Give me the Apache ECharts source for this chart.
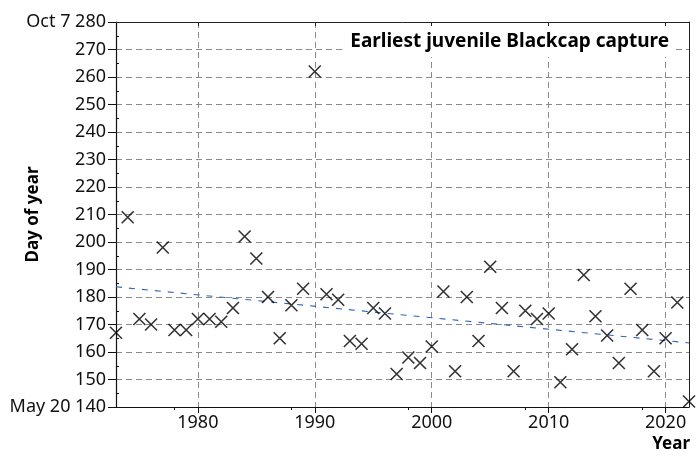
<!DOCTYPE html>
<html><head><meta charset="utf-8">
<script src="https://cdn.jsdelivr.net/npm/echarts@6/dist/echarts.min.js"></script>
<style>html,body{margin:0;padding:0;background:#fff}#c{width:696px;height:457px}</style>
</head><body><div id="c"></div>
<script>
const years = [1973,1974,1975,1976,1977,1978,1979,1980,1981,1982,1983,1984,1985,1986,1987,1988,1989,1990,1991,1992,1993,1994,1995,1996,1997,1998,1999,2000,2001,2002,2003,2004,2005,2006,2007,2008,2009,2010,2011,2012,2013,2014,2015,2016,2017,2018,2019,2020,2021,2022];
const dayOfYear = [167,209,172,170,198,168,168,172,172,171,176,202,194,180,165,177,183,262,181,179,164,163,176,174,152,158,156,162,182,153,180,164,191,176,153,175,172,174,149,161,188,173,166,156,183,168,153,165,178,142];
const trendYears = [1973, 2022];
const trendValues = [183.7, 163.3];
const xTickYears = [1980, 1990, 2000, 2010, 2020];
const yDateLabels = {280: 'Oct 7', 140: 'May 20'};
const titleText = 'Earliest juvenile Blackcap capture';

const FONT = 'Noto Sans';
const chart = echarts.init(document.getElementById('c'), null, {renderer: 'canvas'});
const grid = {left: 116, right: 7, top: 22, bottom: 50};
const points = years.map((y, i) => [y, dayOfYear[i]]);
const trend = trendYears.map((y, i) => [y, trendValues[i]]);
const dashGrid = {show: true, lineStyle: {color: '#8a8a8a', type: [6, 4], width: 1}};
chart.setOption({
  animation: false,
  title: {
    text: titleText, right: 21, top: 26,
    backgroundColor: '#fff', padding: [6, 6, 6, 6],
    textStyle: {fontFamily: FONT, fontSize: 19, fontWeight: 'bold', color: '#000'}
  },
  grid: grid,
  xAxis: [{
    type: 'value', min: 1973, max: 2022, interval: 10,
    position: 'bottom',
    axisLine: {show: true, onZero: false, lineStyle: {color: '#111', width: 1.2}},
    axisTick: {show: true, length: 6, lineStyle: {color: '#111'}, customValues: xTickYears},
    minorTick: {show: true, splitNumber: 2, length: 3, lineStyle: {color: '#111'}},
    axisLabel: {fontFamily: FONT, fontSize: 18, color: '#111', margin: 7, customValues: xTickYears, formatter: v => String(v)},
    splitLine: dashGrid
  }, {
    type: 'value', min: 1973, max: 2022, interval: 10,
    position: 'top',
    axisLine: {show: true, onZero: false, lineStyle: {color: '#222', width: 1}},
    axisTick: {show: true, inside: true, length: 4, lineStyle: {color: '#222'}, customValues: xTickYears},
    axisLabel: {show: false},
    splitLine: {show: false}
  }],
  yAxis: [{
    type: 'value', min: 140, max: 280, interval: 10,
    position: 'left',
    axisLine: {show: true, onZero: false, lineStyle: {color: '#111', width: 1.2}},
    axisTick: {show: true, length: 8, lineStyle: {color: '#111'}},
    axisLabel: {
      fontFamily: FONT, fontSize: 18, color: '#111', margin: 10,
      formatter: v => (yDateLabels[v] ? yDateLabels[v] + ' ' + v : String(v))
    },
    splitLine: dashGrid,
    name: 'Day of year', nameLocation: 'middle', nameRotate: 90, nameGap: 74,
    nameMoveOverlap: false,
    nameTextStyle: {fontFamily: FONT, fontSize: 17, fontWeight: 'bold', color: '#000'}
  }, {
    type: 'value', min: 140, max: 280, interval: 10,
    position: 'left',
    axisLine: {show: false, onZero: false},
    axisTick: {show: false, inside: true},
    minorTick: {show: true, splitNumber: 2, length: 3, lineStyle: {color: '#111'}},
    axisLabel: {show: false},
    splitLine: {show: false}
  }, {
    type: 'value', min: 140, max: 280, interval: 10,
    position: 'right',
    axisLine: {show: true, onZero: false, lineStyle: {color: '#222', width: 1}},
    axisTick: {show: false},
    axisLabel: {show: false},
    splitLine: {show: false}
  }],
  graphic: [{
    type: 'text', right: 6, top: 436,
    style: {text: 'Year', fontFamily: FONT, fontSize: 17, fontWeight: 'bold', fill: '#000'}
  }],
  series: [{
    type: 'line', data: trend, showSymbol: false, symbol: 'none',
    lineStyle: {color: '#2f62b8', width: 1.1, type: [6, 7]},
    silent: true, z: 2
  }, {
    type: 'scatter', data: points, clip: false,
    symbol: 'path://M0,0L10,10M10,0L0,10',
    symbolSize: 12,
    itemStyle: {color: 'rgba(0,0,0,0)', borderColor: '#000', borderWidth: 1.6},
    z: 3
  }]
});
</script></body></html>
